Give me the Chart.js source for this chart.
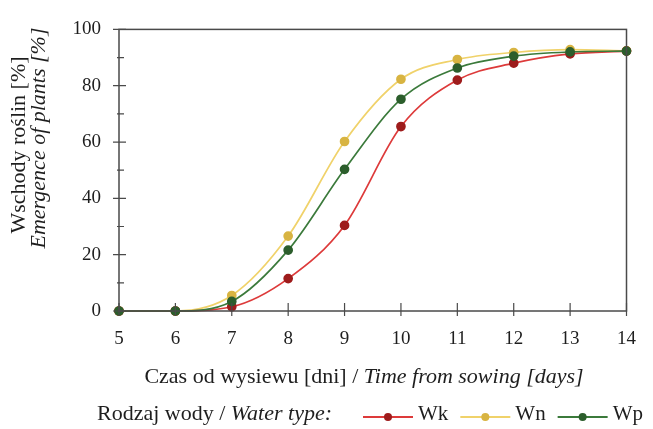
<!DOCTYPE html>
<html>
<head>
<meta charset="utf-8">
<script src="https://cdn.jsdelivr.net/npm/chart.js@4/dist/chart.umd.min.js"></script>
<style>
  html, body { margin: 0; padding: 0; background: #ffffff; }
  #wrap { width: 653px; height: 429px; position: relative; }
</style>
</head>
<body>
<div id="wrap"><canvas id="c" width="653" height="429"></canvas></div>
<script>
// ---- data ----
const days = [5, 6, 7, 8, 9, 10, 11, 12, 13, 14];
const seriesNames = ['Wk', 'Wn', 'Wp'];
const wk = [0, 0, 1.5, 11.5, 30.4, 65.5, 82, 88, 91.3, 92.3];
const wn = [0, 0, 5.5, 26.6, 60.2, 82.3, 89.3, 91.8, 92.8, 92.4];
const wp = [0, 0, 3.4, 21.6, 50.3, 75.2, 86.3, 90.5, 92, 92.3];
const yTicks = [0, 20, 40, 60, 80, 100];
const yMinorTicks = [10, 30, 50, 70, 90];
const yTitle1 = 'Wschody roślin [%]';
const yTitle2 = 'Emergence of plants [%]';
const xTitleNormal = 'Czas od wysiewu [dni] / ';
const xTitleItalic = 'Time from sowing [days]';
const legendNormal = 'Rodzaj wody / ';
const legendItalic = 'Water type:';

const lineColors = ['#dd3a3a', '#f0d26a', '#3b7a3b'];
const pointColors = ['#9e1c1c', '#d8b442', '#2c5e2c'];

const FONT = '"Liberation Serif", "Times New Roman", serif';
const TXT = '#1e1e1e';

function toPts(vals) { return days.map((d, i) => ({ x: d, y: vals[i] })); }

const datasets = [wk, wn, wp].map((vals, i) => ({
  label: seriesNames[i],
  data: toPts(vals),
  borderColor: lineColors[i],
  backgroundColor: pointColors[i],
  pointBackgroundColor: pointColors[i],
  pointBorderColor: pointColors[i],
  borderWidth: 1.7,
  pointRadius: 4,
  pointHoverRadius: 4,
  cubicInterpolationMode: 'monotone',
  clip: false,
  order: [1, 2, 0][i]
}));

const decor = {
  id: 'decor',
  afterDraw(chart) {
    const ctx = chart.ctx;
    const a = chart.chartArea;
    const xs = chart.scales.x, ys = chart.scales.y;
    ctx.save();
    // frame
    ctx.strokeStyle = '#4a4a4a';
    ctx.lineWidth = 1.5;
    ctx.strokeRect(a.left, a.top, a.right - a.left, a.bottom - a.top);
    // ticks
    ctx.lineWidth = 1.2;
    ctx.beginPath();
    yTicks.forEach(v => { const y = ys.getPixelForValue(v); ctx.moveTo(a.left - 6, y); ctx.lineTo(a.left + 7, y); });
    yMinorTicks.forEach(v => { const y = ys.getPixelForValue(v); ctx.moveTo(a.left - 2, y); ctx.lineTo(a.left + 5, y); });
    days.forEach(d => { const x = xs.getPixelForValue(d); ctx.moveTo(x, a.bottom - 8); ctx.lineTo(x, a.bottom + 5); });
    ctx.stroke();

    ctx.fillStyle = TXT;
    // y titles
    ctx.save();
    ctx.translate(19, 145);
    ctx.rotate(-Math.PI / 2);
    ctx.textAlign = 'center'; ctx.textBaseline = 'middle';
    ctx.font = '22px ' + FONT;
    ctx.fillText(yTitle1, 0, 0);
    ctx.restore();
    ctx.save();
    ctx.translate(39, 138);
    ctx.rotate(-Math.PI / 2);
    ctx.textAlign = 'center'; ctx.textBaseline = 'middle';
    ctx.font = 'italic 22px ' + FONT;
    ctx.fillText(yTitle2, 0, 0);
    ctx.restore();

    // x title (mixed)
    ctx.textBaseline = 'middle';
    ctx.textAlign = 'left';
    ctx.font = '22px ' + FONT;
    const w1 = ctx.measureText(xTitleNormal).width;
    ctx.font = 'italic 22px ' + FONT;
    const w2 = ctx.measureText(xTitleItalic).width;
    let x0 = 364 - (w1 + w2) / 2;
    ctx.font = '22px ' + FONT;
    ctx.fillText(xTitleNormal, x0, 377);
    ctx.font = 'italic 22px ' + FONT;
    ctx.fillText(xTitleItalic, x0 + w1, 377);

    // legend
    const ly = 414;
    ctx.font = '22px ' + FONT;
    ctx.fillText(legendNormal, 97, ly);
    const lw = ctx.measureText(legendNormal).width;
    ctx.font = 'italic 22px ' + FONT;
    ctx.fillText(legendItalic, 97 + lw, ly);
    let lx = 363;
    chart.data.datasets.forEach((ds) => {
      ctx.strokeStyle = ds.borderColor;
      ctx.lineWidth = 1.8;
      ctx.beginPath(); ctx.moveTo(lx, ly + 3); ctx.lineTo(lx + 50, ly + 3); ctx.stroke();
      ctx.fillStyle = ds.pointBackgroundColor;
      ctx.beginPath(); ctx.arc(lx + 25, ly + 3, 4, 0, Math.PI * 2); ctx.fill();
      ctx.fillStyle = TXT;
      ctx.font = '21px ' + FONT;
      ctx.fillText(ds.label, lx + 55, ly);
      lx += 55 + ctx.measureText(ds.label).width + 12;
    });
    ctx.restore();
  }
};

new Chart(document.getElementById('c'), {
  type: 'line',
  data: { datasets },
  options: {
    responsive: false,
    animation: false,
    events: [],
    layout: { padding: { left: 0, right: 11, top: 18, bottom: 0 } },
    plugins: { legend: { display: false }, tooltip: { enabled: false } },
    scales: {
      x: {
        type: 'linear', min: 5, max: 14,
        afterFit: s => { s.height = 118; },
        grid: { display: false, drawTicks: false },
        border: { display: false },
        ticks: { stepSize: 1, padding: 17, color: TXT, font: { family: FONT, size: 19 } }
      },
      y: {
        min: 0, max: 100,
        afterFit: s => { s.width = 119; },
        grid: { display: false, drawTicks: false },
        border: { display: false },
        ticks: { stepSize: 20, padding: 18, color: TXT, font: { family: FONT, size: 19 } }
      }
    }
  },
  plugins: [decor]
});
</script>
</body>
</html>
